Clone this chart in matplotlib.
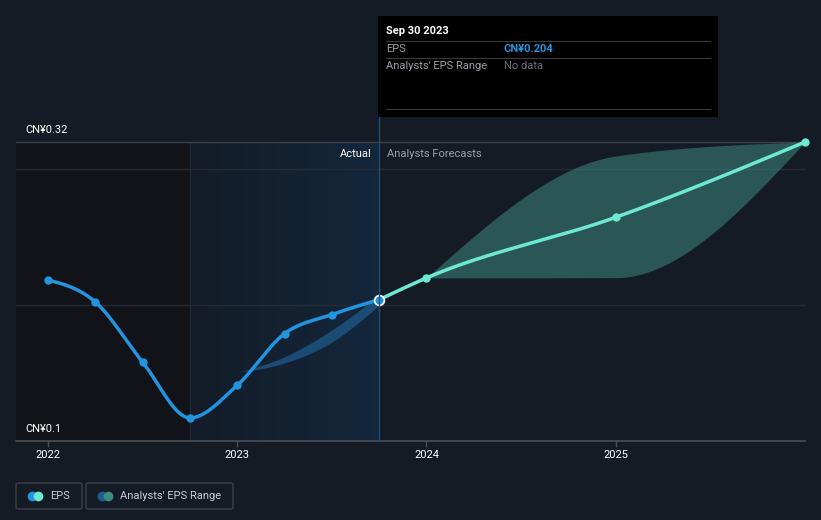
import matplotlib
matplotlib.use("Agg")
import matplotlib.pyplot as plt
from matplotlib.patches import Rectangle, FancyBboxPatch
from matplotlib.colors import LinearSegmentedColormap
import numpy as np

BG, DARK, GRID, TOPLINE = "#151b25", "#111319", "#252b35", "#3c414a"
BLUE, MINT, WHITE, GREY = "#2394df", "#6ee8d2", "#ffffff", "#9aa0a8"
plt.rcParams["font.family"] = ["Roboto", "DejaVu Sans"]

# EPS actuals (quarterly, CN¥)
actual_x = [2022.0, 2022.25, 2022.5, 2022.75, 2023.0, 2023.25, 2023.5, 2023.75]
actual_eps = [0.2185, 0.2023, 0.158, 0.117, 0.141, 0.179, 0.193, 0.204]
# analysts' forecasts
fc_x = [2023.75, 2024.0, 2025.0, 2026.0]
fc_eps = [0.204, 0.220, 0.2646, 0.32]
# forecast range
rng_x = [2024.0, 2025.0, 2026.0]
rng_low = [0.220, 0.2202, 0.32]
rng_high = [0.220, 0.3097, 0.32]
# past estimate range
past_x = [2023.01, 2023.25, 2023.5, 2023.75]
past_low = [0.1508, 0.1574, 0.1728, 0.200]
past_high = [0.1508, 0.1620, 0.1817, 0.2074]

y_ticks = [0.1, 0.32]
y_labels = ["CN¥0.1", "CN¥0.32"]
x_ticks = [2022, 2023, 2024, 2025]

W, H = 821, 520


def monotone(xs, ys, n=300):
    xs, ys = np.asarray(xs, float), np.asarray(ys, float)
    h = np.diff(xs)
    s = np.diff(ys) / h
    m = np.zeros_like(ys)
    for i in range(1, len(xs) - 1):
        p = (s[i - 1] * h[i] + s[i] * h[i - 1]) / (h[i - 1] + h[i])
        m[i] = (np.sign(s[i - 1]) + np.sign(s[i])) * min(abs(s[i - 1]), abs(s[i]), 0.5 * abs(p))
    if len(xs) > 2:
        m[0] = (3 * s[0] - m[1]) / 2
        m[-1] = (3 * s[-1] - m[-2]) / 2
    else:
        m[:] = s[0]
    xx = np.linspace(xs[0], xs[-1], n)
    idx = np.clip(np.searchsorted(xs, xx) - 1, 0, len(h) - 1)
    t = (xx - xs[idx]) / h[idx]
    h00 = 2 * t**3 - 3 * t**2 + 1
    h10 = t**3 - 2 * t**2 + t
    h01 = -2 * t**3 + 3 * t**2
    h11 = t**3 - t**2
    yy = h00 * ys[idx] + h10 * h[idx] * m[idx] + h01 * ys[idx + 1] + h11 * h[idx] * m[idx + 1]
    return xx, yy


def fx(px):
    return px / W


def fy(py):
    return 1 - py / H


fig = plt.figure(figsize=(W / 100, H / 100), dpi=100, facecolor=BG)
ax = fig.add_axes([fx(16), fy(441), fx(805) - fx(16), fy(142) - fy(441)])
ax.set_facecolor(BG)
x0 = 2022 - 32 / 189.3
ax.set_xlim(x0, 2026.0)
ax.set_ylim(0.1, 0.32)
for sp in ax.spines.values():
    sp.set_visible(False)
ax.set_xticks([])
ax.set_yticks([])

# shaded backgrounds
ax.axvspan(x0, 2022.75, color=DARK, zorder=0, lw=0)
cmap = LinearSegmentedColormap.from_list("g", ["#141c28", "#13273b"])
grad = np.linspace(0, 1, 256).reshape(1, -1)
ax.imshow(grad, extent=[2022.75, 2023.75, 0.1, 0.32], aspect="auto", cmap=cmap, zorder=0.5)
ax.axvline(2022.75, color="#1c2a38", lw=0.8, zorder=0.6)

# grid
for gy in [0.2, 0.3]:
    ax.axhline(gy, color=GRID, lw=1, zorder=1)
ax.axhline(0.32, color=TOPLINE, lw=1, zorder=1, clip_on=False)
ax.axhline(0.1, color="#4a4f57", lw=1.2, zorder=1, clip_on=False)

# ranges
xx, lo = monotone(past_x, past_low)
_, hi = monotone(past_x, past_high)
ax.fill_between(xx, lo, hi, color="#1f5d91", alpha=0.7, lw=0, zorder=2)
xx, lo = monotone(rng_x, rng_low)
_, hi = monotone(rng_x, rng_high)
ax.fill_between(xx, lo, hi, color="#3d8a7f", alpha=0.55, lw=0, zorder=2)

# lines
xx, yy = monotone(actual_x, actual_eps)
ax.plot(xx, yy, color=BLUE, lw=2.5, zorder=4, solid_capstyle="round")
ax.scatter(actual_x[:-1], actual_eps[:-1], s=36, color=BLUE, zorder=5, lw=0)
xx, yy = monotone(fc_x, fc_eps)
ax.plot(xx, yy, color=MINT, lw=2.5, zorder=4, solid_capstyle="round")
ax.scatter(fc_x[1:], fc_eps[1:], s=36, color=MINT, zorder=5, lw=0, clip_on=False)
ax.scatter([actual_x[-1]], [actual_eps[-1]], s=50, color=BLUE, edgecolor=WHITE, lw=1.2, zorder=6)

# tick marks and labels
for t in x_ticks:
    ax.plot([t, t], [0.1, 0.1 - 0.0035], color="#4a4f57", lw=1, clip_on=False, zorder=1)
    ax.text(t, 0.1 - 0.0105, str(t), color=WHITE, fontsize=8, ha="center", va="center")
for v, lab in zip(y_ticks, y_labels):
    ax.text(x0 + 9 / 189.3, v + 0.0085, lab, color=WHITE, fontsize=8, ha="left", va="center")

ax.text(2023.75 - 8 / 189.3, 0.311, "Actual", color=WHITE, fontsize=8, ha="right", va="center")
ax.text(2023.75 + 8 / 189.3, 0.311, "Analysts Forecasts", color=GREY, fontsize=8, ha="left", va="center")

# vertical marker line and tooltip
fig.add_artist(plt.Line2D([fx(378.5), fx(378.5)], [fy(117), fy(441)], color="#1e4e78", lw=1))
fig.add_artist(Rectangle((fx(378), fy(117)), fx(718) - fx(378), fy(16) - fy(117),
                         facecolor="#000000", edgecolor="none", transform=fig.transFigure))
for ly in [41, 58, 109]:
    fig.add_artist(plt.Line2D([fx(386), fx(710)], [fy(ly), fy(ly)], color="#3a3a3a", lw=0.8))
fig.text(fx(386), fy(31), "Sep 30 2023", color=WHITE, fontsize=8, fontweight="bold", va="center")
fig.text(fx(386), fy(49), "EPS", color=GREY, fontsize=8, va="center")
fig.text(fx(504), fy(49), "CN¥0.204", color=BLUE, fontsize=8, fontweight="bold", va="center")
fig.text(fx(386), fy(66), "Analysts' EPS Range", color=GREY, fontsize=8, va="center")
fig.text(fx(504), fy(66), "No data", color="#6b7078", fontsize=8, va="center")

# legend
for (lx, rx, label, c1, c2) in [(16, 82, "EPS", BLUE, MINT),
                                (86, 233, "Analysts' EPS Range", "#1f5d91", "#3d8a7f")]:
    fig.add_artist(FancyBboxPatch((fx(lx), fy(509)), fx(rx) - fx(lx), fy(483) - fy(509),
                                  boxstyle="round,pad=0,rounding_size=0.003",
                                  facecolor="none", edgecolor="#3c414a", lw=1,
                                  transform=fig.transFigure))
    fig.add_artist(plt.Line2D([fx(lx + 16)], [fy(496)], marker="o", ms=7, color=c1, mec="none"))
    fig.add_artist(plt.Line2D([fx(lx + 22)], [fy(496)], marker="o", ms=7, color=c2, mec="none"))
    fig.text(fx(lx + 34), fy(496), label, color="#c8ccd2", fontsize=8, va="center")

fig.savefig("out.png", dpi=100, facecolor=BG)
